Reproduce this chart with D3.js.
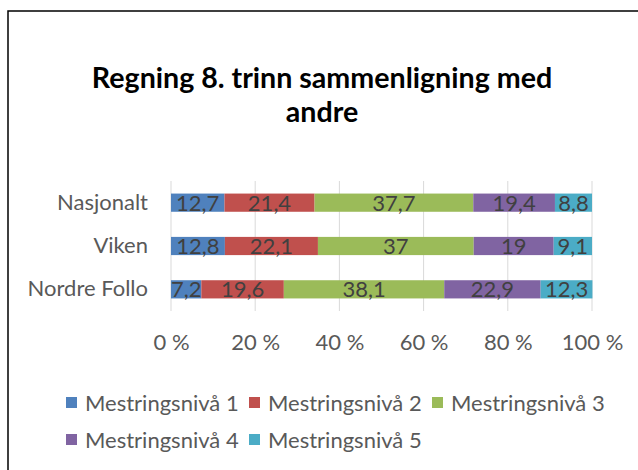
<!DOCTYPE html>
<html>
<head>
<meta charset="utf-8">
<script src="https://cdn.jsdelivr.net/npm/d3@7"></script>
<style>
  html, body { margin: 0; padding: 0; background: #fff; }
  svg { display: block; }
</style>
</head>
<body>
<svg id="chart" width="638" height="470"></svg>
<script>
// Share of pupils (%) at each mastery level, per area
const categories = ["Nasjonalt", "Viken", "Nordre Follo"];
const seriesNames = ["Mestringsnivå 1", "Mestringsnivå 2", "Mestringsnivå 3", "Mestringsnivå 4", "Mestringsnivå 5"];
const level1 = [12.7, 12.8, 7.2];
const level2 = [21.4, 22.1, 19.6];
const level3 = [37.7, 37, 38.1];
const level4 = [19.4, 19, 22.9];
const level5 = [8.8, 9.1, 12.3];
const tickValues = [0, 20, 40, 60, 80, 100];
const seriesColors = ["#4F81BD", "#C0504D", "#9BBB59", "#8064A2", "#4BACC6"];

const levels = [level1, level2, level3, level4, level5];
const rows = categories.map((c, i) => {
  const r = { category: c };
  seriesNames.forEach((s, j) => { r[s] = levels[j][i]; });
  return r;
});

const font = "Lato, 'Open Sans', sans-serif";
const textSize = 22;
const svg = d3.select("#chart");

// chart frame
svg.append("rect")
  .attr("x", 8).attr("y", 11)
  .attr("width", 640).attr("height", 470)
  .attr("fill", "#fff")
  .attr("stroke", "#000").attr("stroke-width", 1.5);

// title
const title = svg.append("text")
  .attr("text-anchor", "middle")
  .attr("font-family", font)
  .attr("font-weight", "bold")
  .attr("font-size", 28.6)
  .attr("fill", "#000");
title.append("tspan").attr("x", 322).attr("y", 88).text("Regning 8. trinn sammenligning med");
title.append("tspan").attr("x", 322).attr("y", 122).text("andre");

const plot = { left: 171, right: 592, top: 181, bottom: 311 };

const x = d3.scaleLinear().domain([0, 100]).range([plot.left, plot.right]);
const y = d3.scaleBand().domain(categories).range([plot.top, plot.bottom]).paddingInner(0.58).paddingOuter(0.29);

// vertical gridlines
svg.append("g")
  .selectAll("line")
  .data(tickValues)
  .join("line")
  .attr("x1", d => x(d)).attr("x2", d => x(d))
  .attr("y1", plot.top).attr("y2", plot.bottom)
  .attr("stroke", "#D9D9D9").attr("stroke-width", 1);

// x axis tick labels
const xAxis = d3.axisBottom(x).tickValues(tickValues).tickSize(0).tickPadding(0)
  .tickFormat(d => d + " %");
const xg = svg.append("g").attr("transform", `translate(0,${plot.bottom + 39})`).call(xAxis);
xg.select(".domain").remove();
xg.selectAll("text")
  .attr("dy", 0)
  .attr("font-family", font).attr("font-size", textSize).attr("fill", "#595959");

// category axis labels
const yAxis = d3.axisLeft(y).tickSize(0).tickPadding(0);
const yg = svg.append("g").attr("transform", `translate(${plot.left - 23},0)`).call(yAxis);
yg.select(".domain").remove();
yg.selectAll("text")
  .attr("font-family", font).attr("font-size", textSize).attr("fill", "#595959");

// stacked bars
const stack = d3.stack().keys(seriesNames)(rows);
const layers = svg.append("g")
  .selectAll("g")
  .data(stack)
  .join("g")
  .attr("fill", (d, i) => seriesColors[i]);

layers.selectAll("rect")
  .data(d => d)
  .join("rect")
  .attr("x", d => x(d[0]))
  .attr("y", d => y(d.data.category))
  .attr("width", d => x(d[1]) - x(d[0]))
  .attr("height", y.bandwidth());

// value labels
layers.selectAll("text")
  .data(d => d.map(p => ({ p, key: d.key })))
  .join("text")
  .attr("x", d => (x(d.p[0]) + x(d.p[1])) / 2)
  .attr("y", d => y(d.p.data.category) + y.bandwidth() / 2)
  .attr("dy", "0.36em")
  .attr("text-anchor", "middle")
  .attr("font-family", font).attr("font-size", textSize).attr("fill", "#404040")
  .text(d => String(d.p.data[d.key]).replace(".", ","));

// legend
const legendPos = [
  { x: 66, y: 403 }, { x: 249, y: 403 }, { x: 432, y: 403 },
  { x: 66, y: 440 }, { x: 249, y: 440 }
];
const legend = svg.append("g")
  .selectAll("g")
  .data(seriesNames)
  .join("g")
  .attr("transform", (d, i) => `translate(${legendPos[i].x},${legendPos[i].y})`);
legend.append("rect")
  .attr("x", 0).attr("y", -6).attr("width", 11).attr("height", 11)
  .attr("fill", (d, i) => seriesColors[i]);
legend.append("text")
  .attr("x", 19).attr("y", 0).attr("dy", "0.36em")
  .attr("font-family", font).attr("font-size", textSize).attr("fill", "#595959")
  .text(d => d);
</script>
</body>
</html>
